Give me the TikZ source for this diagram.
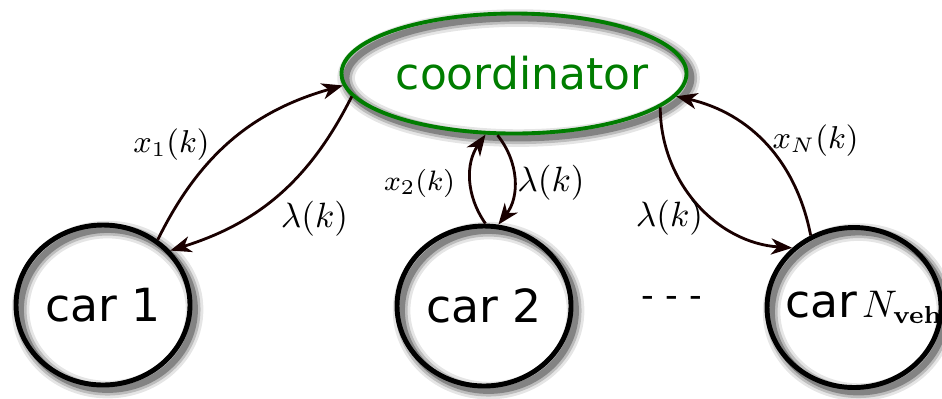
\documentclass[tikz,border=0pt]{standalone}
\usepackage[no-math]{fontspec}
\usepackage{amsmath}
\usetikzlibrary{positioning,arrows.meta,shapes.geometric}
\newfontfamily\carfont{DejaVu Sans}
\definecolor{coordgreen}{RGB}{0,125,0}
\definecolor{linkdark}{RGB}{25,0,0}
\newcommand{\zw}[1]{\makebox[0pt]{#1}}

\tikzset{
  ringshadow/.style={
    preaction={draw=black,opacity=0.10,line width=5pt,transform canvas={shift={(1.3pt,-1.3pt)}}},
    preaction={draw=black,opacity=0.18,line width=3.4pt,transform canvas={shift={(1.3pt,-1.3pt)}}},
    preaction={draw=black,opacity=0.30,line width=1.9pt,transform canvas={shift={(1.3pt,-1.3pt)}}}},
  car/.style={ellipse,draw=black,line width=1.4pt,minimum width=1.74cm,minimum height=1.6cm,
    inner sep=0pt,font=\carfont\fontsize{13}{15}\selectfont,ringshadow},
  coordbox/.style={ellipse,draw=coordgreen,line width=1.1pt,text=coordgreen,minimum width=3.45cm,
    minimum height=1.2cm,inner sep=0pt,font=\carfont\fontsize{12.5}{15}\selectfont,ringshadow},
  link/.style={draw=linkdark,line width=0.8pt,-{Stealth[length=6pt,width=4.6pt,inset=1.8pt]}},
  lbl/.style={inner sep=0pt}
}

\begin{document}
\begin{tikzpicture}
	\useasboundingbox (0,0) rectangle (9.42,-3.98);
	%nodes
	\node[coordbox] (coord) at (5.14,-0.735) {\zw{\hspace{0.16cm}coordinator}};
	\node[car] (car1) at (1.03,-3.05) {\zw{car 1}};
	\node[car] (car2) at (4.84,-3.06) {\zw{car 2}};
	\node[car] (carN) at (8.54,-3.075) {\makebox[0pt][l]{\hspace{-0.69cm}car\hspace{1.5pt}{\fontsize{10.5}{12}\selectfont$N_{\mathbf{veh}}$}}};
	\node[anchor=base,inner sep=0pt,font=\carfont\fontsize{10}{12}\selectfont] (dots) at (6.715,-3.075) {- - -};
	
	%car 1
	\draw[link] (car1.50) to[bend left=24] (coord.184);
	\draw[link] (coord.188) to[bend left=23] (car1.39);
	\node[lbl,font=\small] (x1) at (1.715,-1.45) {$x_1(k)$};
	\node[lbl] (lam1) at (3.145,-2.185) {$\lambda(k)$};
	
	%car 2
	\draw[link] (car2.89) to[bend left=35] (coord.245);
	\draw[link] (coord.255) to[bend left=38] (car2.80);
	\node[lbl,font=\footnotesize] (x2) at (4.195,-1.835) {$x_2(k)$};
	\node[lbl] (lam2) at (5.51,-1.83) {$\lambda(k)$};
	
	%car N
	\draw[link] (coord.347) to[bend right=43] (carN.136);
	\draw[link] (carN.121) to[bend right=33] (coord.352);
	\node[lbl] (lamN) at (6.695,-2.175) {$\lambda(k)$};
	\node[lbl,font=\small] (xN) at (8.155,-1.41) {$x_N(k)$};
\end{tikzpicture}
\end{document}
